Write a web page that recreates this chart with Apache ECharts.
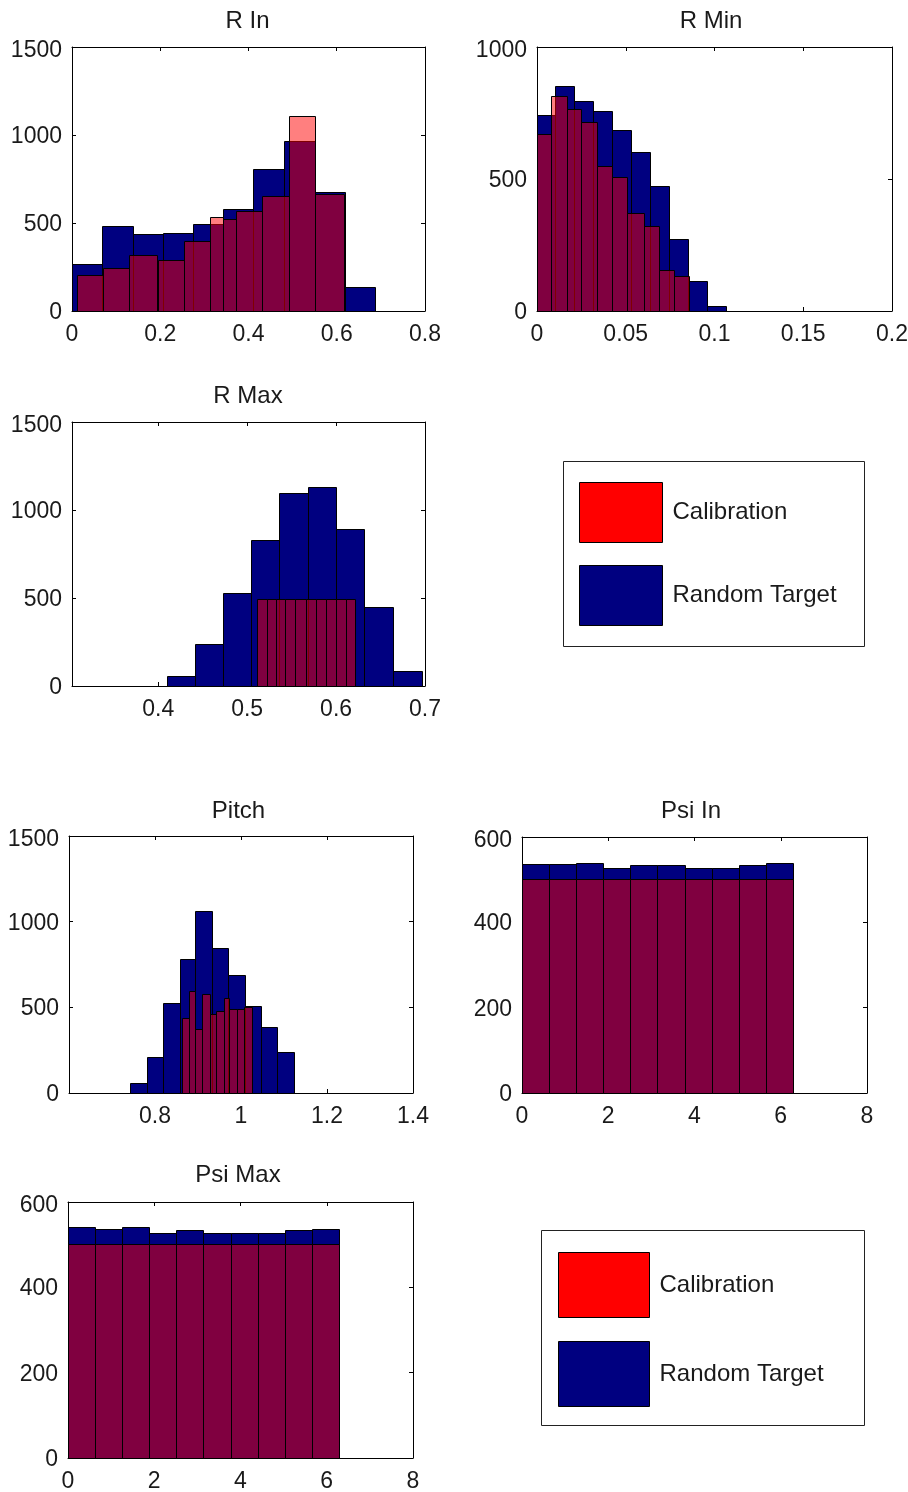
<!DOCTYPE html>
<html><head><meta charset="utf-8">
<script src="https://cdn.jsdelivr.net/npm/echarts@6/dist/echarts.min.js"></script>
<style>html,body{margin:0;padding:0;background:#fff}#c{width:908px;height:1492px}</style>
</head><body><div id="c"></div>
<script>
// ---------- data ----------
// R In
const rInBlueEdges  = [0, 0.068, 0.138, 0.206, 0.2735, 0.342, 0.410, 0.4797, 0.550, 0.618, 0.686];
const rInBlueCounts = [266, 482, 437, 441, 494, 579, 805, 968, 678, 137];
const rInRedLeft    = [0.011, 0.0695, 0.130, 0.195, 0.253, 0.312, 0.342, 0.3724, 0.4306, 0.491, 0.550];
const rInRedRight   = [0.0695, 0.130, 0.1926, 0.253, 0.312, 0.342, 0.3724, 0.4306, 0.491, 0.550, 0.6157];
const rInRedCounts  = [203, 245, 321, 289, 397, 532, 522, 568, 653, 1109, 663];
// R Min
const rMinBlueEdges  = [0, 0.0103, 0.021, 0.0315, 0.0423, 0.053, 0.0638, 0.0746, 0.0851, 0.0958, 0.1065];
const rMinBlueCounts = [743, 853, 794, 758, 686, 601, 473, 272, 114, 20];
const rMinRedLeft    = [0, 0.0081, 0.0169, 0.025, 0.0338, 0.0423, 0.0507, 0.0605, 0.0689, 0.0774];
const rMinRedRight   = [0.0081, 0.0169, 0.025, 0.0338, 0.0423, 0.0507, 0.0605, 0.0689, 0.0774, 0.0854];
const rMinRedCounts  = [671, 815, 764, 715, 549, 506, 370, 322, 155, 133];
// R Max
const rMaxBlueEdges  = [0.4094, 0.4413, 0.4724, 0.5043, 0.5361, 0.5681, 0.5999, 0.6317, 0.6644, 0.6963];
const rMaxBlueCounts = [55, 237, 526, 828, 1094, 1128, 891, 450, 84];
const rMaxRedLeft    = [0.5114, 0.522, 0.5324, 0.5425, 0.5537, 0.5661, 0.5774, 0.5886, 0.5999, 0.6111];
const rMaxRedRight   = [0.522, 0.5324, 0.5425, 0.5537, 0.5661, 0.5774, 0.5886, 0.5999, 0.6111, 0.6213];
const rMaxRedCounts  = [492, 492, 492, 492, 492, 492, 492, 492, 492, 492];
// Pitch
const pitchBlueEdges  = [0.7423, 0.7808, 0.8192, 0.8577, 0.8939, 0.9322, 0.9708, 1.0093, 1.0462, 1.0845, 1.1231];
const pitchBlueCounts = [58, 210, 528, 782, 1064, 848, 689, 505, 388, 239];
const pitchRedLeft    = [0.8639, 0.8785, 0.8923, 0.9092, 0.9269, 0.9424, 0.9599, 0.9731, 0.9899, 1.0077];
const pitchRedRight   = [0.8785, 0.8923, 0.9092, 0.9269, 0.9424, 0.9599, 0.9731, 0.9899, 1.0077, 1.0246];
const pitchRedCounts  = [437, 598, 373, 577, 460, 479, 557, 491, 491, 501];
// Psi In
const psiInBlueEdges  = [0, 0.63, 1.26, 1.88, 2.51, 3.14, 3.77, 4.40, 5.03, 5.65, 6.28];
const psiInBlueCounts = [536, 536, 538, 528, 534, 534, 528, 528, 534, 539];
const psiInRedLeft    = [0, 0.63, 1.26, 1.88, 2.51, 3.14, 3.77, 4.40, 5.03, 5.65];
const psiInRedRight   = [0.63, 1.26, 1.88, 2.51, 3.14, 3.77, 4.40, 5.03, 5.65, 6.28];
const psiInRedCounts  = [502, 502, 502, 502, 502, 502, 502, 502, 502, 502];
// Psi Max
const psiMaxBlueEdges  = [0, 0.63, 1.26, 1.88, 2.51, 3.14, 3.77, 4.40, 5.03, 5.65, 6.28];
const psiMaxBlueCounts = [541, 536, 541, 527, 534, 527, 527, 527, 534, 537];
const psiMaxRedLeft    = [0, 0.63, 1.26, 1.88, 2.51, 3.14, 3.77, 4.40, 5.03, 5.65];
const psiMaxRedRight   = [0.63, 1.26, 1.88, 2.51, 3.14, 3.77, 4.40, 5.03, 5.65, 6.28];
const psiMaxRedCounts  = [501, 501, 501, 501, 501, 501, 501, 501, 501, 501];

const titles = ['R In', 'R Min', 'R Max', 'Pitch', 'Psi In', 'Psi Max'];
const seriesNames = ['Calibration', 'Random Target'];
const rMaxTicks = [0.4, 0.5, 0.6, 0.7];

// ---------- layout ----------
const FONT = '"Liberation Sans", Arial, sans-serif';
const TXT = '#1a1a1a';
const BLUE = '#000080';
const RED_T = 'rgba(255,0,0,0.5)';

const panels = [
  {tx:247.5, ty:21,  grid:{left:72,  top:47,  width:353, height:264}, x:{min:0, max:0.8, interval:0.2}, y:{min:0,max:1500,interval:500},
   be:rInBlueEdges, bc:rInBlueCounts, rl:rInRedLeft, rr:rInRedRight, rc:rInRedCounts},
  {tx:711, ty:21,    grid:{left:537, top:47,  width:355, height:264}, x:{min:0, max:0.2, interval:0.05}, y:{min:0,max:1000,interval:500},
   be:rMinBlueEdges, bc:rMinBlueCounts, rl:rMinRedLeft, rr:rMinRedRight, rc:rMinRedCounts},
  {tx:248, ty:396,   grid:{left:72,  top:422, width:353, height:264}, x:{min:0.303, max:0.7, custom:rMaxTicks}, y:{min:0,max:1500,interval:500},
   be:rMaxBlueEdges, bc:rMaxBlueCounts, rl:rMaxRedLeft, rr:rMaxRedRight, rc:rMaxRedCounts},
  {tx:238.5, ty:811, grid:{left:69,  top:836, width:344, height:257}, x:{min:0.6, max:1.4, interval:0.2, hideMin:true}, y:{min:0,max:1500,interval:500},
   be:pitchBlueEdges, bc:pitchBlueCounts, rl:pitchRedLeft, rr:pitchRedRight, rc:pitchRedCounts},
  {tx:691, ty:811,   grid:{left:522, top:837, width:345, height:256}, x:{min:0, max:8, interval:2}, y:{min:0,max:600,interval:200},
   be:psiInBlueEdges, bc:psiInBlueCounts, rl:psiInRedLeft, rr:psiInRedRight, rc:psiInRedCounts},
  {tx:238, ty:1175,  grid:{left:68,  top:1202, width:345, height:256}, x:{min:0, max:8, interval:2}, y:{min:0,max:600,interval:200},
   be:psiMaxBlueEdges, bc:psiMaxBlueCounts, rl:psiMaxRedLeft, rr:psiMaxRedRight, rc:psiMaxRedCounts}
];

const fmt = v => String(+(+v).toFixed(4));

function renderBar(params, api) {
  const x0 = api.value(0), x1 = api.value(1), h = api.value(2);
  const p0 = api.coord([x0, 0]);
  const p1 = api.coord([x1, h]);
  const l = Math.round(p0[0]) + 0.5, r = Math.round(p1[0]) + 0.5;
  const t = Math.round(p1[1]) + 0.5, b = Math.round(p0[1]) + 0.5;
  return {
    type: 'rect',
    shape: {x: l, y: t, width: r - l, height: b - t},
    style: {fill: api.visual('color'), stroke: '#000', lineWidth: 1}
  };
}

const grids = [], xAxes = [], yAxes = [], series = [], title = [];
panels.forEach((p, i) => {
  grids.push(Object.assign({show:false, outerBoundsMode:'none', containLabel:false}, p.grid));
  const lineStyle = {color:'#000', width:1};
  const tickX = {show:true, inside:true, length:4, lineStyle:{color:'#000', width:1}};
  if (p.x.custom) tickX.customValues = p.x.custom;
  const labX = {show:true, margin:12, fontSize:23, fontFamily:FONT, color:TXT, formatter:fmt, showMinLabel: !p.x.hideMin};
  if (p.x.custom) labX.customValues = p.x.custom;
  const baseX = {type:'value', gridIndex:i, min:p.x.min, max:p.x.max, splitLine:{show:false},
    axisLine:{show:true, onZero:false, lineStyle}, axisTick:tickX};
  if (!p.x.custom) baseX.interval = p.x.interval;
  xAxes.push(Object.assign({}, baseX, {position:'bottom', axisLabel:labX}));
  xAxes.push(Object.assign({}, baseX, {position:'top', axisLabel:{show:false}}));
  const ymax = p.y.max;
  const baseY = {type:'value', gridIndex:i, min:p.y.min, max:p.y.max, interval:p.y.interval, splitLine:{show:false},
    axisLine:{show:true, onZero:false, lineStyle}, axisTick:{show:true, inside:true, length:4, lineStyle:{color:'#000', width:1}}};
  yAxes.push(Object.assign({}, baseY, {position:'left', axisLabel:{show:true, margin:10, fontSize:23, fontFamily:FONT, color:TXT,
    formatter: v => (+v === ymax ? '{top|' + fmt(v) + '}' : '{n|' + fmt(v) + '}'),
    rich:{top:{fontSize:23, fontFamily:FONT, color:TXT, padding:[8,0,0,0]}, n:{fontSize:23, fontFamily:FONT, color:TXT, padding:[3,0,0,0]}}}}));
  yAxes.push(Object.assign({}, baseY, {position:'right', axisLabel:{show:false}}));

  const blueData = p.bc.map((c, k) => [p.be[k], p.be[k + 1], c]);
  const redData = p.rc.map((c, k) => [p.rl[k], p.rr[k], c]);
  series.push({type:'custom', name:seriesNames[1], xAxisIndex:2*i, yAxisIndex:2*i, renderItem:renderBar,
    itemStyle:{color:BLUE}, encode:{x:[0,1], y:2}, data:blueData, z:2});
  series.push({type:'custom', name:seriesNames[0], xAxisIndex:2*i, yAxisIndex:2*i, renderItem:renderBar,
    itemStyle:{color:RED_T}, encode:{x:[0,1], y:2}, data:redData, z:3});
  title.push({text:titles[i], left:p.tx, top:p.ty, textAlign:'center', textVerticalAlign:'middle', padding:0,
    textStyle:{fontSize:24, fontWeight:'normal', fontFamily:FONT, color:TXT}});
});

function legendAt(left, top, w, h, gap) {
  return {orient:'vertical', left, top, padding:0, itemWidth:w, itemHeight:h, itemGap:gap, icon:'rect', selectedMode:false,
    textStyle:{fontSize:24, fontFamily:FONT, color:TXT, padding:[4,0,0,5]},
    data:[{name:seriesNames[0], itemStyle:{color:'#ff0000', borderColor:'#000', borderWidth:1, opacity:1}},
          {name:seriesNames[1], itemStyle:{color:BLUE, borderColor:'#000', borderWidth:1, opacity:1}}]};
}

const chart = echarts.init(document.getElementById('c'), null, {renderer:'canvas'});
chart.setOption({
  animation:false,
  backgroundColor:'#fff',
  title,
  grid:grids,
  xAxis:xAxes,
  yAxis:yAxes,
  series,
  legend:[legendAt(579, 482, 83, 60, 22), legendAt(558, 1252, 91, 65, 23)],
  graphic:[
    {type:'rect', shape:{x:563.5, y:461.5, width:301, height:185}, style:{fill:'#fff', stroke:'#222', lineWidth:1}, z:0},
    {type:'rect', shape:{x:541.5, y:1230.5, width:323, height:195}, style:{fill:'#fff', stroke:'#222', lineWidth:1}, z:0}
  ]
});
</script></body></html>
